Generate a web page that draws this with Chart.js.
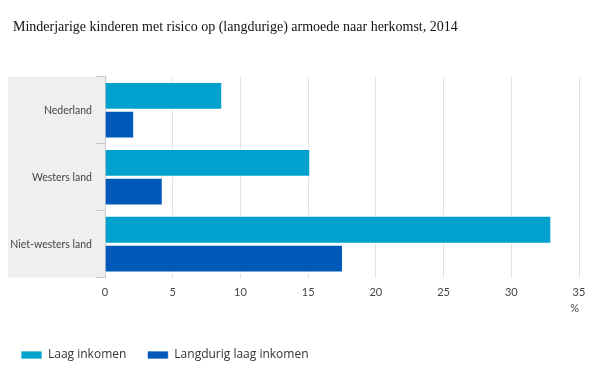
<!DOCTYPE html>
<html lang="nl">
<head>
<meta charset="UTF-8">
<title>Armoede naar herkomst</title>
<script src="https://cdn.jsdelivr.net/npm/chart.js"></script>
<style>
  html, body { margin: 0; padding: 0; background: #fff; }
  #wrap { width: 600px; height: 385px; }
</style>
</head>
<body>
<div id="wrap"><canvas id="armoedeChart" width="600" height="385"></canvas></div>
<script>
// data
const herkomst = ['Nederland', 'Westers land', 'Niet-westers land'];
const laagInkomen = [8.6, 15.1, 32.9];
const langdurigLaagInkomen = [2.1, 4.2, 17.5];
const xTicks = [0, 5, 10, 15, 20, 25, 30, 35];

const labelFont = { family: 'Lato, sans-serif', size: 10.5 };
const tickFont = { family: 'Lato, sans-serif', size: 11 };

// grijs vlak achter de categorie-labels
const labelPanel = {
  id: 'labelPanel',
  beforeDraw(chart) {
    const { ctx, chartArea } = chart;
    const y = chart.scales.y;
    ctx.save();
    ctx.fillStyle = '#efefef';
    ctx.fillRect(y.left, chartArea.top, chartArea.left - y.left, chartArea.bottom - chartArea.top);
    ctx.restore();
  }
};

// titel iets inspringen, legenda tegen de linkerrand laten beginnen
const shiftBlocks = {
  id: 'shiftBlocks',
  afterLayout(chart) {
    if (chart.titleBlock) chart.titleBlock.left += 5;
    if (chart.legend) chart.legend.left = 0;
  }
};

// witte rand alleen boven/onder, zodat de balken een spleetje krijgen
const barBorder = { top: 1.5, bottom: 1.5, left: 0, right: 0 };

new Chart(document.getElementById('armoedeChart'), {
  type: 'bar',
  data: {
    labels: herkomst,
    datasets: [
      {
        label: 'Laag inkomen',
        data: laagInkomen,
        backgroundColor: '#00a1cd',
        borderColor: '#ffffff',
        borderWidth: barBorder,
        borderSkipped: false
      },
      {
        label: 'Langdurig laag inkomen',
        data: langdurigLaagInkomen,
        backgroundColor: '#0058b8',
        borderColor: '#ffffff',
        borderWidth: barBorder,
        borderSkipped: false
      }
    ]
  },
  options: {
    indexAxis: 'y',
    responsive: false,
    animation: false,
    devicePixelRatio: 1,
    layout: { padding: { left: 8, right: 21, top: 0, bottom: 14 } },
    datasets: { bar: { categoryPercentage: 0.86, barPercentage: 1 } },
    scales: {
      x: {
        min: 0,
        max: 35,
        afterBuildTicks(axis) { axis.ticks = xTicks.map(v => ({ value: v })); },
        grid: { color: '#e3e3e3', lineWidth: 1, drawTicks: false },
        border: { display: false },
        ticks: { color: '#444', font: tickFont, padding: 8 },
        title: {
          display: true, text: '%', align: 'end',
          color: '#444', font: tickFont, padding: { top: -5, bottom: 13 }
        }
      },
      y: {
        afterFit(axis) { axis.width = 97; },
        grid: { drawOnChartArea: false, color: '#c8c8c8', tickLength: 9 },
        border: { display: true, color: '#c8c8c8' },
        ticks: { color: '#444', font: labelFont, padding: 4 }
      }
    },
    plugins: {
      title: {
        display: true,
        text: 'Minderjarige kinderen met risico op (langdurige) armoede naar herkomst, 2014',
        align: 'start',
        color: '#111',
        font: { family: '"Liberation Serif", serif', size: 14, weight: 'normal' },
        padding: { top: 19, bottom: 41 }
      },
      legend: {
        position: 'bottom',
        align: 'start',
        labels: {
          boxWidth: 21,
          boxHeight: 8,
          padding: 21,
          color: '#333',
          font: { family: '"Open Sans", sans-serif', size: 12 }
        }
      },
      tooltip: { enabled: false }
    }
  },
  plugins: [labelPanel, shiftBlocks]
});
</script>
</body>
</html>
